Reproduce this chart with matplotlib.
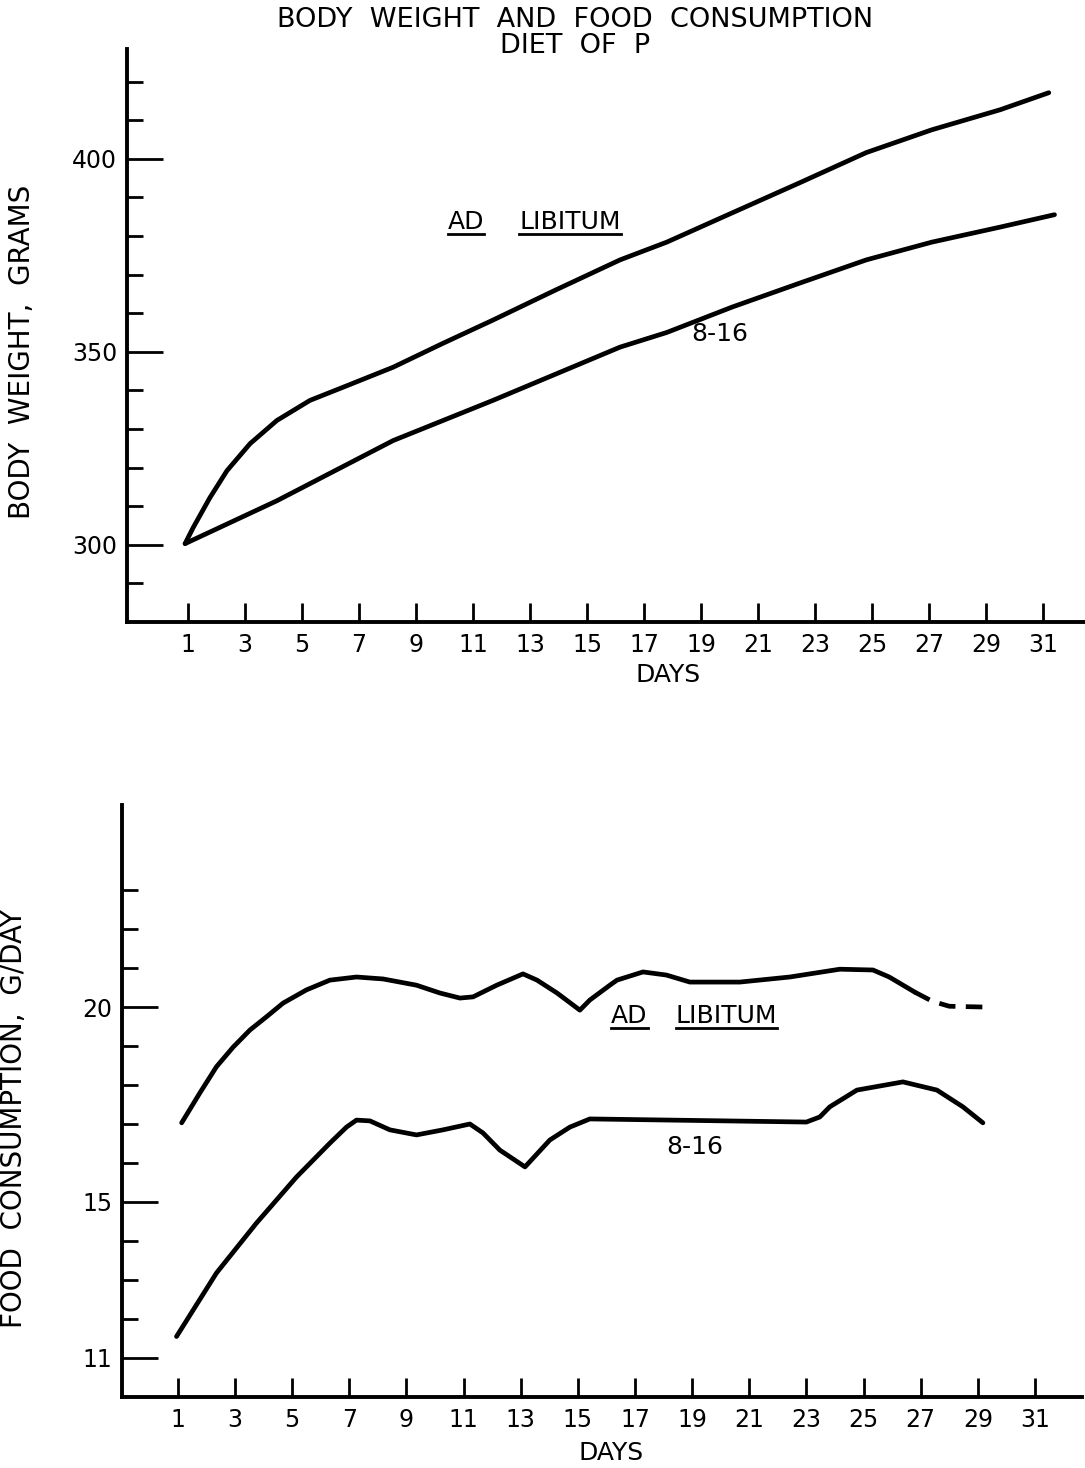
import matplotlib
matplotlib.use('Agg')
import matplotlib.pyplot as plt
from matplotlib.lines import Line2D

plt.rcParams['font.family'] = ['DejaVu Sans']

# body weight, grams
bw_ad_days = [0.9, 1.18, 1.77, 2.37, 3.18, 4.12, 5.28, 6.44, 8.2, 9.95, 11.7, 13.9, 16.16, 17.8,
              20.1, 22.47, 24.8, 27.1, 29.5, 31.2]
bw_ad = [300.3, 304.4, 312.2, 319.2, 326.2, 332.2, 337.4, 340.8, 346.0, 352.2, 358.2, 366.0, 373.8, 378.4,
         386.0, 393.8, 401.6, 407.5, 412.7, 417.1]
bw_816_days = [0.9, 4.12, 8.2, 11.7, 16.16, 17.8, 20.1, 22.47, 24.8, 27.1, 29.5, 31.4]
bw_816 = [300.3, 311.4, 327.0, 337.4, 351.2, 355.0, 361.6, 367.8, 373.8, 378.4, 382.3, 385.5]

# food consumption, g/day
fc_ad_days = [1.13, 1.77, 2.35, 2.93, 3.52, 4.1, 4.68, 5.5, 6.32, 7.25, 8.18, 9.35, 10.17, 10.87,
              11.33, 12.16, 13.08, 13.57, 14.27, 15.07, 15.42, 16.12, 16.37, 17.28, 18.1, 18.92,
              20.67, 22.42, 24.17, 25.33, 25.9, 26.5, 26.8]
fc_ad = [17.03, 17.8, 18.47, 18.97, 19.41, 19.75, 20.1, 20.44, 20.69, 20.77, 20.72, 20.56, 20.36, 20.23,
         20.26, 20.56, 20.85, 20.69, 20.36, 19.92, 20.18, 20.56, 20.69, 20.9, 20.82, 20.64,
         20.64, 20.77, 20.97, 20.95, 20.77, 20.51, 20.38]
fc_ad_dash_days = [26.8, 27.4, 28.0, 29.2]
fc_ad_dash = [20.38, 20.15, 20.02, 20.0]
fc_816_days = [0.95, 2.35, 3.75, 5.15, 6.32, 6.9, 7.25, 7.72, 8.42, 9.35, 10.28, 11.22, 11.68, 12.27,
               13.15, 14.02, 14.72, 15.42, 23.0, 23.47, 23.82, 24.77, 26.38, 27.57, 28.48, 29.18]
fc_816 = [11.55, 13.18, 14.46, 15.64, 16.51, 16.92, 17.1, 17.08, 16.85, 16.72, 16.85, 17.0, 16.77, 16.33,
          15.9, 16.59, 16.92, 17.13, 17.05, 17.18, 17.44, 17.87, 18.08, 17.87, 17.44, 17.03]

day_ticks = list(range(1, 32, 2))

LW = 3.4
SPINE = 2.8
LINE_KW = dict(color='black', lw=LW, solid_joinstyle='round', solid_capstyle='round')


def style_axes(ax, major, minor, labels):
    for s in ['top', 'right']:
        ax.spines[s].set_visible(False)
    for s in ['left', 'bottom']:
        ax.spines[s].set_linewidth(SPINE)
    ax.set_xticks(day_ticks)
    ax.set_xticklabels([str(d) for d in day_ticks])
    ax.set_yticks(major)
    ax.set_yticklabels(labels)
    ax.set_yticks(minor, minor=True)
    ax.tick_params(axis='x', direction='in', length=14, width=2, pad=8, labelsize=17)
    ax.tick_params(axis='y', which='major', direction='in', length=26, width=2, pad=7, labelsize=17)
    ax.tick_params(axis='y', which='minor', direction='in', length=11.5, width=2)


fig = plt.figure(figsize=(10.85, 14.68), dpi=100)

ax1 = fig.add_axes([0.117, 0.5763, 0.883, 0.390])
ax1.plot(bw_ad_days, bw_ad, **LINE_KW)
ax1.plot(bw_816_days, bw_816, **LINE_KW)
ax1.set_xlim(-1.14, 32.47)
ax1.set_ylim(280, 428.3)
style_axes(ax1, [300, 350, 400], list(range(290, 430, 10)), ['300', '350', '400'])
ax1.set_xlabel('DAYS', fontsize=18)
ax1.xaxis.set_label_coords(0.565, -0.072)
ax1.set_ylabel('BODY  WEIGHT,  GRAMS', fontsize=20)
ax1.yaxis.set_label_coords(-0.095, 0.472)
t1a = ax1.text(10.75, 383.6, 'AD', fontsize=18, ha='center', va='center')
t1b = ax1.text(14.4, 383.6, 'LIBITUM', fontsize=18, ha='center', va='center')
ax1.text(19.67, 354.5, '8-16', fontsize=18, ha='center', va='center')

ax2 = fig.add_axes([0.1124, 0.0484, 0.8846, 0.4032])
ax2.plot(fc_ad_days, fc_ad, **LINE_KW)
ax2.plot(fc_ad_dash_days, fc_ad_dash, color='black', lw=LW, dashes=(3.5, 2.2))
ax2.plot(fc_816_days, fc_816, **LINE_KW)
ax2.set_xlim(-0.96, 32.64)
ax2.set_ylim(10.0, 25.18)
style_axes(ax2, [11, 15, 20], list(range(12, 24)), ['11', '15', '20'])
ax2.set_xlabel('DAYS', fontsize=18)
ax2.xaxis.set_label_coords(0.51, -0.074)
ax2.set_ylabel('FOOD  CONSUMPTION,  G/DAY', fontsize=20)
ax2.yaxis.set_label_coords(-0.098, 0.471)
t2a = ax2.text(16.8, 19.77, 'AD', fontsize=18, ha='center', va='center')
t2b = ax2.text(20.2, 19.77, 'LIBITUM', fontsize=18, ha='center', va='center')
ax2.text(19.1, 16.4, '8-16', fontsize=18, ha='center', va='center')

fig.text(0.53, 0.9866, 'BODY  WEIGHT  AND  FOOD  CONSUMPTION', fontsize=19.5, ha='center', va='center')
fig.text(0.53, 0.9685, 'DIET  OF  P', fontsize=19.5, ha='center', va='center')

# underline the curve labels
fig.canvas.draw()
renderer = fig.canvas.get_renderer()
inv = fig.transFigure.inverted()
for t in [t1a, t1b, t2a, t2b]:
    bb = t.get_window_extent(renderer)
    (x0, y0), (x1, _) = inv.transform([(bb.x0, bb.y0), (bb.x1, bb.y0)])
    fig.add_artist(Line2D([x0, x1], [y0, y0], transform=fig.transFigure, color='black', lw=2))

fig.savefig('out.png', dpi=100)
